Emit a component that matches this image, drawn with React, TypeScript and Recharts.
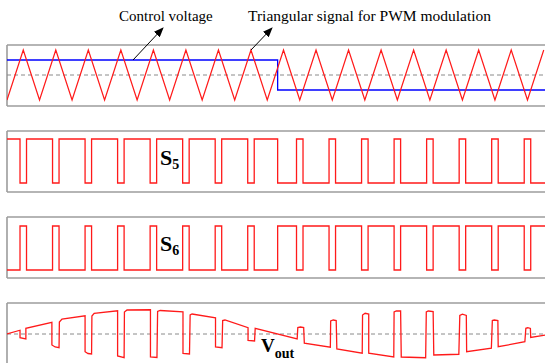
import React from 'react';
import { LineChart, Line, XAxis, YAxis, ReferenceLine } from 'recharts';

// time in carrier periods, values in per-unit
const T_END = 16.55;
const AXIS_END = 17.0;

// triangular carrier vertices [t, v]
const carrier = [
  [0, -1], [0.5, 1], [1, -1], [1.5, 1], [2, -1], [2.5, 1], [3, -1], [3.5, 1],
  [4, -1], [4.5, 1], [5, -1], [5.5, 1], [6, -1], [6.5, 1], [7, -1], [7.5, 1],
  [8, -1], [8.5, 1], [9, -1], [9.5, 1], [10, -1], [10.5, 1], [11, -1], [11.5, 1],
  [12, -1], [12.5, 1], [13, -1], [13.5, 1], [14, -1], [14.5, 1], [15, -1], [15.5, 1],
  [16, -1], [16.5, 1]
];

// control voltage: high level, then low level after the step
const controlLevels = [0.6, -0.6];
const controlStepAt = 8.32;

// switching instants of S5 (starts high, toggles at every instant)
const s5Switch = [
  0.4, 0.6, 1.4, 1.6, 2.4, 2.6, 3.4, 3.6, 4.4, 4.6, 5.4, 5.6, 6.4, 6.6, 7.4, 7.6,
  8.32, 8.9, 9.1, 9.9, 10.1, 10.9, 11.1, 11.9, 12.1, 12.9, 13.1, 13.9, 14.1, 14.9, 15.1, 15.9, 16.1
];

// output voltage [t, v]
const vout = [
  [0, 0], [0.4, 0.15], [0.4, -0.15], [0.58, -0.2], [0.58, 0.23], [1.38, 0.47],
  [1.38, -0.44], [1.48, -0.52], [1.6, -0.55], [1.61, 0.48], [1.69, 0.6], [2.4, 0.73],
  [2.4, -0.71], [2.49, -0.78], [2.6, -0.8], [2.61, 0.72], [2.68, 0.83], [3.4, 0.93],
  [3.4, -0.88], [3.6, -0.95], [3.61, 0.88], [3.69, 0.96], [4.41, 0.97],
  [4.41, -0.92], [4.61, -0.94], [4.63, 0.9], [4.71, 0.94], [5.41, 0.89],
  [5.41, -0.78], [5.61, -0.8], [5.63, 0.76], [5.69, 0.8], [6.41, 0.65],
  [6.41, -0.52], [6.61, -0.55], [6.63, 0.54], [6.7, 0.56], [7.41, 0.25],
  [7.41, -0.26], [7.61, -0.28], [7.63, 0.23], [8.92, -0.2],
  [8.94, 0.26], [9.02, 0.28], [9.12, 0.26], [9.14, -0.37], [9.94, -0.53],
  [9.95, 0.52], [10.03, 0.56], [10.12, 0.54], [10.14, -0.6], [10.92, -0.77],
  [10.93, 0.76], [11.01, 0.83], [11.12, 0.8], [11.12, -0.77], [11.89, -0.92],
  [11.9, 0.88], [11.97, 0.92], [12.1, 0.92], [12.12, -0.92], [12.87, -0.95],
  [12.89, 0.88], [12.95, 0.92], [13.1, 0.9], [13.12, -0.84], [13.89, -0.81],
  [13.92, 0.74], [14.0, 0.79], [14.12, 0.74], [14.13, -0.71], [14.89, -0.57],
  [14.92, 0.54], [14.98, 0.56], [15.09, 0.54], [15.1, -0.51], [15.92, -0.31],
  [15.95, 0.23], [16.01, 0.25], [16.09, 0.22], [16.1, -0.14], [16.55, -0.04]
];

const triData = carrier.map(([t, v]) => ({ t, v }));
const ctrlData = [
  { t: 0, v: controlLevels[0] },
  { t: controlStepAt, v: controlLevels[0] },
  { t: controlStepAt, v: controlLevels[1] },
  { t: T_END, v: controlLevels[1] }
];
const voutData = vout.map(([t, v]) => ({ t, v }));

function steps(switches: number[], startHigh: boolean) {
  let level = startHigh ? 1 : 0;
  const out = [{ t: 0, v: level }];
  switches.forEach(t => {
    out.push({ t, v: level });
    level = 1 - level;
    out.push({ t, v: level });
  });
  out.push({ t: T_END, v: level });
  return out;
}
const s5Data = steps(s5Switch, true);
const s6Data = steps(s5Switch, false);

const W = 545;
const CHART_W = 560;
const LEFT = 7;
const PAD = 5;
const BORDER = '#9c9c9c';
const RED = '#ff1a1a';

type PanelProps = {
  top: number;
  bottom: number;
  domain: [number, number];
  midline?: boolean;
  children: React.ReactNode;
};

// one boxed strip; the right side runs past the visible area like the original
function Panel({ top, bottom, domain, midline, children }: PanelProps) {
  return <div style={{ position: 'absolute', left: 0, top: top - PAD }}>
      <LineChart width={CHART_W} height={bottom - top + 2 * PAD} margin={{ top: PAD, right: 0, bottom: PAD, left: LEFT }}>
        <XAxis type="number" dataKey="t" domain={[0, AXIS_END]} hide allowDataOverflow />
        <YAxis type="number" domain={domain} hide allowDataOverflow />
        <ReferenceLine y={domain[1]} stroke={BORDER} strokeWidth={1.6} />
        <ReferenceLine y={domain[0]} stroke={BORDER} strokeWidth={1.6} />
        <ReferenceLine x={0} stroke={BORDER} strokeWidth={1.6} />
        {midline && <ReferenceLine y={0} stroke="#8a8a8a" strokeDasharray="4 3" />}
        {children}
      </LineChart>
    </div>;
}

const serif = '"Liberation Serif", "Times New Roman", serif';

export default function App() {
  return <div style={{ position: 'absolute', left: 0, top: 0, width: W, height: 363, overflow: 'hidden', background: '#fff' }}>
      <Panel top={45} bottom={106} domain={[-1.24, 1.2]} midline>
        <Line data={ctrlData} dataKey="v" type="linear" stroke="#0000ff" strokeWidth={1.3} dot={false} isAnimationActive={false} />
        <Line data={triData} dataKey="v" type="linear" stroke={RED} strokeWidth={1.2} dot={false} isAnimationActive={false} />
      </Panel>
      <Panel top={131} bottom={192} domain={[-0.2045, 1.182]}>
        <Line data={s5Data} dataKey="v" type="linear" stroke={RED} strokeWidth={1.3} dot={false} isAnimationActive={false} />
      </Panel>
      <Panel top={217} bottom={278} domain={[-0.182, 1.2045]}>
        <Line data={s6Data} dataKey="v" type="linear" stroke={RED} strokeWidth={1.3} dot={false} isAnimationActive={false} />
      </Panel>
      <Panel top={303} bottom={365} domain={[-1.24, 1.24]} midline>
        <Line data={voutData} dataKey="v" type="linear" stroke={RED} strokeWidth={1.3} dot={false} isAnimationActive={false} />
      </Panel>
      <svg width={W} height={363} style={{ position: 'absolute', left: 0, top: 0, pointerEvents: 'none' }}>
        <defs>
          <marker id="head" markerWidth="10" markerHeight="8" refX="9" refY="4" orient="auto" markerUnits="userSpaceOnUse">
            <path d="M0,0 L10,4 L0,8 Z" fill="#000" />
          </marker>
        </defs>
        <text x={119} y={21} fontFamily={serif} fontSize={15} fill="#000">Control voltage</text>
        <text x={248} y={21} fontFamily={serif} fontSize={15.5} fill="#000">Triangular signal for PWM modulation</text>
        <line x1={133} y1={60} x2={163} y2={28} stroke="#000" strokeWidth={1} markerEnd="url(#head)" />
        <line x1={251} y1={50} x2={272} y2={28} stroke="#000" strokeWidth={1} markerEnd="url(#head)" />
        <text x={160} y={165} fontFamily={serif} fontSize={22} fontWeight="bold" fill="#000">S<tspan fontSize={14} dy={4}>5</tspan></text>
        <text x={160} y={251} fontFamily={serif} fontSize={22} fontWeight="bold" fill="#000">S<tspan fontSize={14} dy={4}>6</tspan></text>
        <text x={261} y={352} fontFamily={serif} fontSize={19} fontWeight="bold" fill="#000">V<tspan fontSize={14} dy={6}>out</tspan></text>
      </svg>
    </div>;
}
